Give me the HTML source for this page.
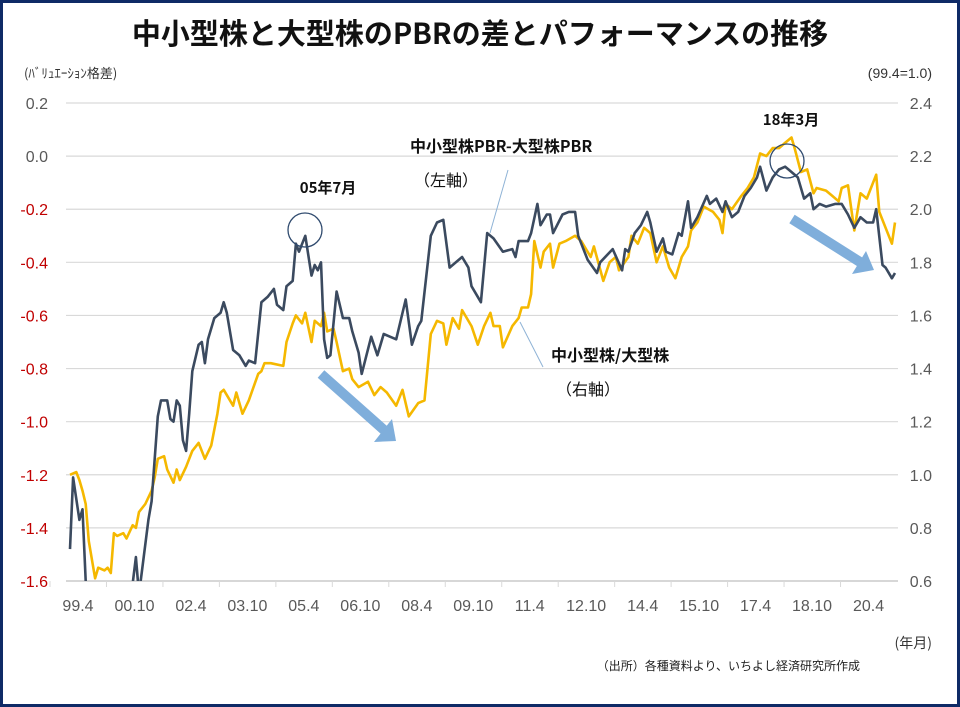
<!DOCTYPE html>
<html><head><meta charset="utf-8">
<style>
html,body{margin:0;padding:0;background:#fff;}
body{width:960px;height:707px;overflow:hidden;}
svg{display:block;font-family:"Liberation Sans","Noto Sans CJK JP",sans-serif;}
</style></head>
<body>
<svg id="chart" width="960" height="707" viewBox="0 0 960 707">
<rect x="1.5" y="1.5" width="957" height="704" fill="#fff" stroke="#0e2a66" stroke-width="3"/>
<text x="480" y="44" text-anchor="middle" font-size="29" font-weight="bold" fill="#111" font-family="'Noto Sans CJK JP',sans-serif">中小型株と大型株のPBRの差とパフォーマンスの推移</text>
<text x="24" y="78" font-size="13" fill="#333" font-family="'Noto Sans CJK JP',sans-serif">(ﾊﾞﾘｭｴｰｼｮﾝ格差)</text>
<text x="932" y="78" text-anchor="end" font-size="14" fill="#333">(99.4=1.0)</text>
<g id="grid"></g>
<g id="series"></g>
<g id="annot">
<circle cx="305" cy="230" r="17" fill="none" stroke="#2f4a6e" stroke-width="1.3"/>
<circle cx="787" cy="161" r="17" fill="none" stroke="#2f4a6e" stroke-width="1.3"/>
<text x="328" y="193" text-anchor="middle" font-size="15" font-weight="bold" fill="#111" font-family="'Noto Sans CJK JP',sans-serif">05年7月</text>
<text x="791" y="125" text-anchor="middle" font-size="15" font-weight="bold" fill="#111" font-family="'Noto Sans CJK JP',sans-serif">18年3月</text>
<text x="410" y="152" font-size="16" font-weight="bold" fill="#111" font-family="'Noto Sans CJK JP',sans-serif">中小型株PBR-大型株PBR</text>
<text x="414" y="186" font-size="16" fill="#111" font-family="'Noto Sans CJK JP',sans-serif">（左軸）</text>
<text x="551" y="361" font-size="16" font-weight="bold" fill="#111" font-family="'Noto Sans CJK JP',sans-serif">中小型株/大型株</text>
<text x="556" y="395" font-size="16" fill="#111" font-family="'Noto Sans CJK JP',sans-serif">（右軸）</text>
<line x1="508" y1="170" x2="490" y2="233" stroke="#8fb3d6" stroke-width="1"/>
<line x1="520" y1="322" x2="543" y2="367" stroke="#8fb3d6" stroke-width="1"/>
<g fill="#7faedb">
<line x1="321" y1="374" x2="384" y2="430" stroke="#7faedb" stroke-width="10"/>
<polygon points="374,442 396,441 392,419"/>
</g>
<g fill="#7faedb">
<line x1="792" y1="219" x2="860" y2="262" stroke="#7faedb" stroke-width="10"/>
<polygon points="852,274 874,270 866,251"/>
</g>
</g>
<text x="932" y="648" text-anchor="end" font-size="14" fill="#333" font-family="'Noto Sans CJK JP',sans-serif">(年月)</text>
<text x="860" y="670" text-anchor="end" font-size="12" fill="#222" font-family="'Noto Sans CJK JP',sans-serif">（出所）各種資料より、いちよし経済研究所作成</text>
</svg>
<script>
const leftTicks = [0.2,0.0,-0.2,-0.4,-0.6,-0.8,-1.0,-1.2,-1.4,-1.6];
const rightTicks = [2.4,2.2,2.0,1.8,1.6,1.4,1.2,1.0,0.8,0.6];
const xLabels = ["99.4","00.10","02.4","03.10","05.4","06.10","08.4","09.10","11.4","12.10","14.4","15.10","17.4","18.10","20.4"];
const xLabelMonths = [0,18,36,54,72,90,108,126,144,162,180,198,216,234,252];
const pbrMonths = [0,1,3,4,5,6,10,18,21,22,25,26,28,29,31,32,33,34,35,36,37,38,39,41,42,43,44,46,48,49,50,52,54,56,57,59,61,63,65,66,68,69,71,72,73,75,77,78,79,80,81,82,83,85,87,89,90,92,93,96,98,100,102,104,107,109,111,112,115,117,119,121,123,125,127,128,131,133,135,138,141,142,143,146,147,149,150,152,153,154,157,159,161,162,165,168,169,173,176,177,178,180,182,184,185,187,189,190,192,194,195,197,198,200,203,204,206,208,209,211,213,215,217,219,220,222,224,226,228,229,232,234,236,237,239,241,244,246,248,250,252,254,256,257,259,260,262,263];
const pbrDiff = [-1.48,-1.21,-1.37,-1.33,-1.60,-1.75,-1.85,-1.8,-1.51,-1.65,-1.37,-1.30,-0.98,-0.92,-0.92,-0.99,-1.00,-0.92,-0.94,-1.07,-1.11,-0.97,-0.81,-0.71,-0.70,-0.78,-0.69,-0.61,-0.59,-0.55,-0.59,-0.73,-0.75,-0.79,-0.77,-0.78,-0.55,-0.53,-0.50,-0.56,-0.58,-0.49,-0.47,-0.33,-0.36,-0.30,-0.45,-0.41,-0.43,-0.40,-0.69,-0.76,-0.75,-0.51,-0.61,-0.61,-0.66,-0.74,-0.82,-0.68,-0.75,-0.67,-0.68,-0.69,-0.54,-0.71,-0.64,-0.62,-0.30,-0.25,-0.24,-0.42,-0.40,-0.38,-0.42,-0.49,-0.55,-0.29,-0.31,-0.36,-0.35,-0.38,-0.32,-0.32,-0.29,-0.18,-0.26,-0.22,-0.22,-0.29,-0.22,-0.21,-0.21,-0.30,-0.39,-0.44,-0.40,-0.35,-0.43,-0.35,-0.36,-0.29,-0.26,-0.21,-0.25,-0.36,-0.31,-0.36,-0.37,-0.29,-0.30,-0.17,-0.27,-0.23,-0.15,-0.18,-0.16,-0.21,-0.17,-0.23,-0.21,-0.15,-0.12,-0.08,-0.04,-0.13,-0.08,-0.05,-0.04,-0.05,-0.08,-0.16,-0.14,-0.20,-0.18,-0.19,-0.18,-0.18,-0.22,-0.27,-0.23,-0.25,-0.25,-0.20,-0.41,-0.42,-0.46,-0.44];
const perfMonths = [0,2,3,4,5,6,8,9,11,12,13,14,15,17,18,20,21,22,24,26,27,28,30,31,33,34,35,37,39,41,43,45,47,48,49,52,53,55,57,60,61,62,64,68,69,71,72,74,75,77,78,80,81,82,84,85,87,89,90,92,95,97,99,101,104,106,108,111,113,115,117,119,120,122,124,125,128,130,132,134,135,137,138,141,143,144,146,147,148,150,151,153,154,156,158,161,163,166,167,170,172,174,175,178,179,181,183,185,187,189,191,193,195,197,198,200,202,205,207,208,209,211,214,216,218,220,222,224,226,228,230,231,233,235,237,238,241,243,245,246,248,250,252,254,257,258,260,262,263];
const perfRatio = [1.00,1.01,0.98,0.94,0.89,0.75,0.61,0.65,0.64,0.65,0.63,0.78,0.77,0.78,0.76,0.81,0.80,0.86,0.89,0.94,0.99,1.06,1.07,1.02,0.97,1.02,0.98,1.03,1.09,1.12,1.06,1.11,1.23,1.31,1.32,1.26,1.31,1.23,1.28,1.38,1.39,1.42,1.42,1.41,1.50,1.57,1.60,1.57,1.61,1.50,1.58,1.56,1.61,1.54,1.55,1.50,1.39,1.40,1.36,1.33,1.35,1.30,1.33,1.31,1.26,1.32,1.22,1.27,1.28,1.53,1.58,1.57,1.49,1.59,1.55,1.62,1.56,1.49,1.56,1.61,1.56,1.56,1.48,1.56,1.59,1.63,1.63,1.68,1.88,1.78,1.84,1.87,1.78,1.87,1.88,1.90,1.88,1.82,1.86,1.73,1.80,1.82,1.77,1.82,1.90,1.87,1.93,1.91,1.80,1.86,1.78,1.74,1.82,1.86,1.92,1.95,2.01,1.99,1.96,1.91,2.02,2.00,2.05,2.08,2.12,2.21,2.20,2.23,2.23,2.25,2.27,2.23,2.14,2.15,2.06,2.08,2.07,2.05,2.03,2.08,2.09,1.92,2.06,2.04,2.13,1.99,1.93,1.87,1.95];

const NS='http://www.w3.org/2000/svg';
const plotL=66, plotR=898, plotT=103, plotB=581;
const xScale = m => 70 + m*3.137;
const yLeft = v => plotT + (0.2 - v)/1.8*(plotB-plotT);
const yRight = v => plotT + (2.4 - v)/1.8*(plotB-plotT);
function mk(tag, attrs, parent){const e=document.createElementNS(NS,tag);for(const k in attrs)e.setAttribute(k,attrs[k]);parent.appendChild(e);return e;}
const grid=document.getElementById('grid');
leftTicks.forEach((v,i)=>{
  const y=yLeft(v);
  const gl=mk('line',{x1:plotL,x2:plotR,y1:y,y2:y,stroke:i===leftTicks.length-1?'#bfbfbf':'#d9d9d9','stroke-width':1.2},grid);
  
  
  const t=mk('text',{x:48,y:y+6,'text-anchor':'end','font-size':16,fill:v<-0.01?'#c00000':'#595959'},grid);
  t.textContent=v.toFixed(1);
  
  
});
rightTicks.forEach(v=>{
  const y=yRight(v);
  const t=mk('text',{x:932,y:y+6,'text-anchor':'end','font-size':16,fill:'#595959'},grid);
  t.textContent=v.toFixed(1);
  
  
});
xLabels.forEach((lab,i)=>{
  const x=xScale(xLabelMonths[i])+8;
  const t=mk('text',{x:x,y:611,'text-anchor':'middle','font-size':16,fill:'#595959'},grid);
  t.textContent=lab;
  
  
  const tk=mk('line',{x1:x-28,x2:x-28,y1:plotB,y2:plotB+6,stroke:'#d9d9d9','stroke-width':1},grid);
  
  
});
const ser=document.getElementById('series');
const clip=mk('clipPath',{id:'pc'},ser);
mk('rect',{x:plotL,y:plotT-30,width:plotR-plotL+5,height:plotB-plotT+30},clip);
function path(ms,vs,ys){return ms.map((m,i)=>(i?'L':'M')+xScale(m).toFixed(1)+','+ys(vs[i]).toFixed(1)).join('');}
const p1=mk('path',{d:path(perfMonths,perfRatio,yRight),fill:'none',stroke:'#f5b800','stroke-width':2.6,'stroke-linejoin':'round','clip-path':'url(#pc)'},ser);


const p2=mk('path',{d:path(pbrMonths,pbrDiff,yLeft),fill:'none',stroke:'#3b4a5f','stroke-width':2.6,'stroke-linejoin':'round','clip-path':'url(#pc)'},ser);


</script>
</body></html>
